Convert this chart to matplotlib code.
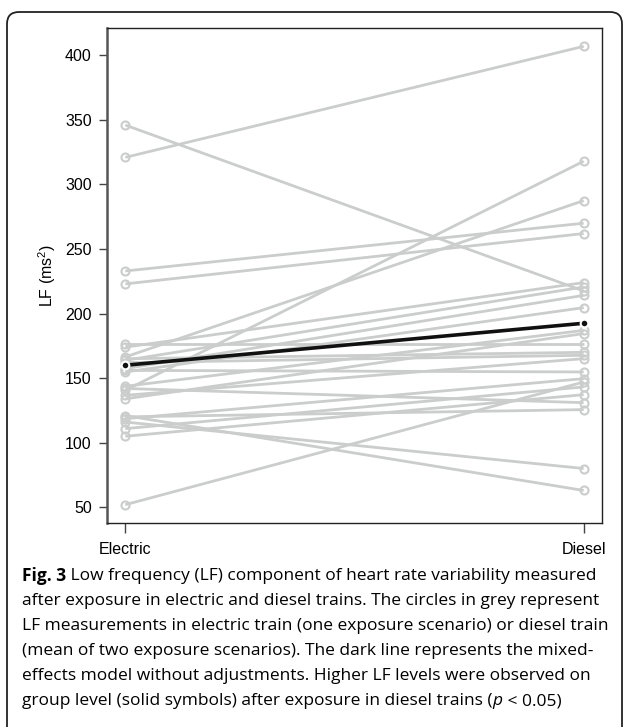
import matplotlib
matplotlib.use('Agg')
import matplotlib.pyplot as plt
from matplotlib.patches import FancyBboxPatch
from matplotlib.transforms import IdentityTransform

# LF (ms^2) per subject
electric = [321, 346, 233, 223, 140.6, 166.4, 52, 121, 116, 176.7, 174, 163.8,
            157.4, 154.8, 143.7, 134, 165, 162, 136.7, 156, 118.6, 110.9, 105,
            142, 120]
diesel = [407, 217.5, 270, 262, 318, 287.5, 147, 63, 80, 176.7, 224, 220.6,
          214.1, 204.6, 187, 184.5, 170, 167.7, 165.1, 154.8, 149.6, 143.2,
          137.2, 131, 125.6]
group_mean = [160, 192.5]
trains = ['Electric', 'Diesel']
yticks = [50, 100, 150, 200, 250, 300, 350, 400]

caption = [
    [('Fig. 3', 'bold', 'normal'),
     (' Low frequency (LF) component of heart rate variability measured', 'normal', 'normal')],
    [('after exposure in electric and diesel trains. The circles in grey represent', 'normal', 'normal')],
    [('LF measurements in electric train (one exposure scenario) or diesel train', 'normal', 'normal')],
    [('(mean of two exposure scenarios). The dark line represents the mixed-', 'normal', 'normal')],
    [('effects model without adjustments. Higher LF levels were observed on', 'normal', 'normal')],
    [('group level (solid symbols) after exposure in diesel trains (', 'normal', 'normal'),
     ('p', 'normal', 'italic'),
     (' < 0.05)', 'normal', 'normal')],
]

W, H = 627, 727
plt.rcParams['font.family'] = ['Liberation Sans', 'DejaVu Sans']
plt.rcParams['mathtext.default'] = 'regular'

fig = plt.figure(figsize=(W / 100, H / 100), dpi=100)
ax = fig.add_axes([107 / W, 1 - 523 / H, (602 - 107) / W, (523 - 28) / H])

grey = '#cbcccc'
for e, d in zip(electric, diesel):
    ax.plot([1, 2], [e, d], '-', color=grey, lw=2.0, zorder=2,
            solid_capstyle='butt')
    ax.plot([1, 2], [e, d], 'o', color=grey, ms=5.8, mew=1.5,
            mfc='none', zorder=3)

ax.plot([1, 2], group_mean, '-', color='#111111', lw=2.6, zorder=4)
ax.plot([1, 2], group_mean, 'o', color='#111111', ms=5.5, mec='white',
        mew=1.5, zorder=5)

ax.margins(x=0.04, y=0.04)
ax.set_xticks([1, 2])
ax.set_xticklabels(trains, fontsize=11.5)
ax.set_yticks(yticks)
ax.tick_params(axis='y', labelsize=11.5, length=6, width=1, color='#444444', pad=5)
ax.tick_params(axis='x', length=7, width=1, color='#444444', pad=7)
ax.set_ylabel('LF (ms$^{2}$)', fontsize=11.5, labelpad=5)
for s in ax.spines.values():
    s.set_color('#222222')
    s.set_linewidth(1.0)
ax.spines['left'].set_color('#555555')
ax.spines['left'].set_linewidth(1.8)

border = FancyBboxPatch((7, -30), W - 12, H - 12 + 30,
                        boxstyle='round,pad=0,rounding_size=12',
                        transform=IdentityTransform(), fill=False,
                        ec='#222222', lw=1.3)
fig.patches.append(border)

# caption, drawn piece by piece so bold / italic can be mixed
fig.canvas.draw()
renderer = fig.canvas.get_renderer()
y0 = 576
for i, line in enumerate(caption):
    x = 22
    for txt, weight, style in line:
        t = fig.text(x / W, 1 - (y0 + i * 25) / H, txt, fontsize=12.55,
                     family=['Open Sans', 'DejaVu Sans'], weight=weight,
                     style=style, va='center', ha='left')
        x += t.get_window_extent(renderer).width

fig.savefig('out.png', dpi=100)
